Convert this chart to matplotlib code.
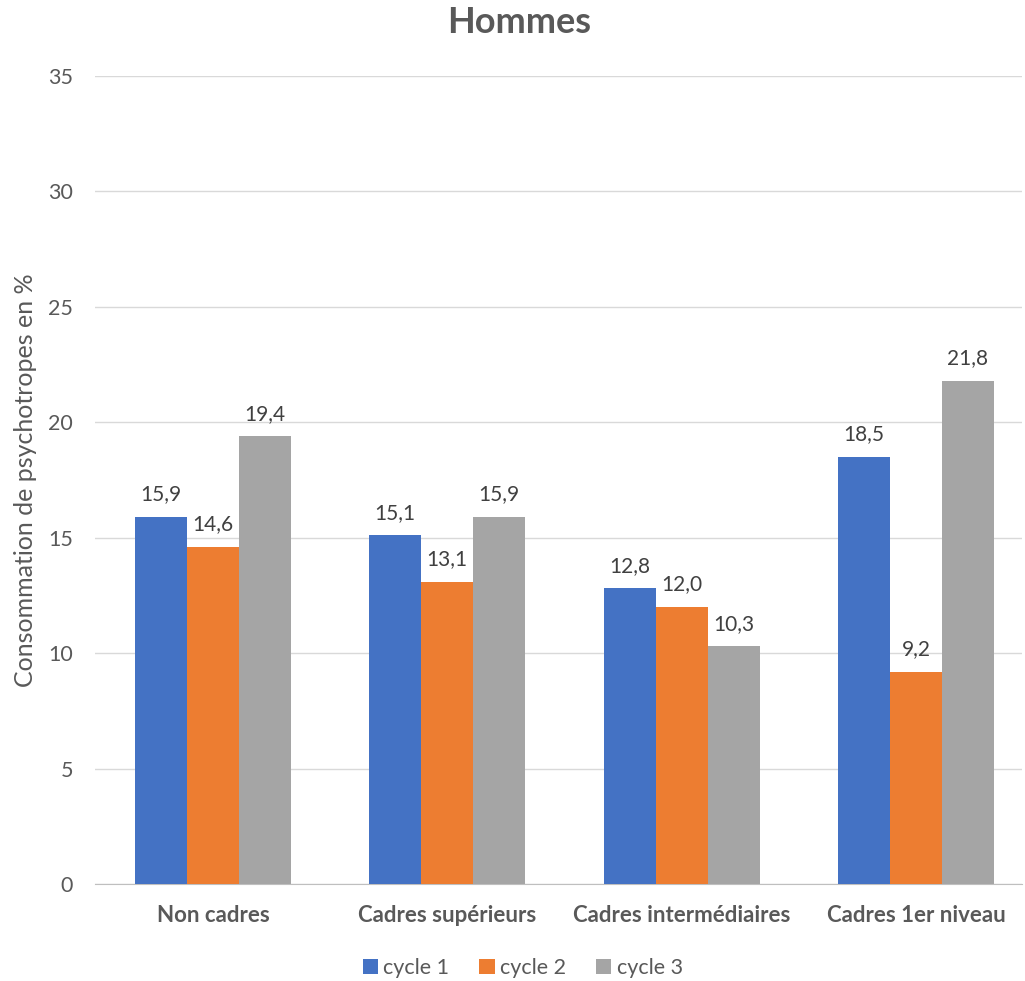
import matplotlib
matplotlib.use("Agg")
import matplotlib.pyplot as plt
import numpy as np

categories = ["Non cadres", "Cadres supérieurs", "Cadres intermédiaires", "Cadres 1er niveau"]
series_names = ["cycle 1", "cycle 2", "cycle 3"]
cycle1 = [15.9, 15.1, 12.8, 18.5]
cycle2 = [14.6, 13.1, 12.0, 9.2]
cycle3 = [19.4, 15.9, 10.3, 21.8]
colors = ["#4472C4", "#ED7D31", "#A5A5A5"]
yticks = [0, 5, 10, 15, 20, 25, 30, 35]

plt.rcParams['font.family'] = ['Lato', 'DejaVu Sans']
txt = "#595959"

fig = plt.figure(figsize=(10.25, 9.81), dpi=100)
ax = fig.add_axes([0.0927, 0.0989, 0.9044, 0.8236])

x = np.arange(len(categories))
w = 0.222
for i, (vals, name, c) in enumerate(zip([cycle1, cycle2, cycle3], series_names, colors)):
    pos = x + (i - 1) * w
    ax.bar(pos, vals, width=w, color=c, label=name, zorder=3)
    for p, v in zip(pos, vals):
        ax.annotate(f"{v:.1f}".replace(".", ","), (p, v), xytext=(0, 9),
                    textcoords="offset points", ha="center", va="bottom",
                    fontsize=15, color="#404040")

ax.set_xlim(-0.503, 3.453)
ax.set_ylim(0, 35)
ax.set_yticks(yticks)
ax.set_yticklabels([str(t) for t in yticks], fontsize=15.5, color=txt)
ax.set_xticks(x)
ax.set_xticklabels(categories, fontsize=16, fontweight="bold", color=txt)
ax.tick_params(axis="x", length=0, pad=15)
ax.tick_params(axis="y", length=0, pad=16)
ax.grid(axis="y", color="#D9D9D9", linewidth=1, zorder=0)
for s in ["top", "right", "left"]:
    ax.spines[s].set_visible(False)
ax.spines["bottom"].set_color("#BFBFBF")
ax.set_ylabel("Consommation de psychotropes en %", fontsize=18, color=txt)
ax.yaxis.set_label_coords(-0.0625, 0.5)
fig.text(0.506, 0.977, "Hommes", ha="center", va="center", fontsize=26,
         fontweight="bold", color=txt)
fig.legend(loc="center", bbox_to_anchor=(0.51, 0.013), ncol=3, frameon=False,
           fontsize=15.5, handlelength=0.7, handleheight=0.7, handletextpad=0.25,
           columnspacing=1.4, labelcolor=txt)

fig.savefig("out.png", dpi=100)
